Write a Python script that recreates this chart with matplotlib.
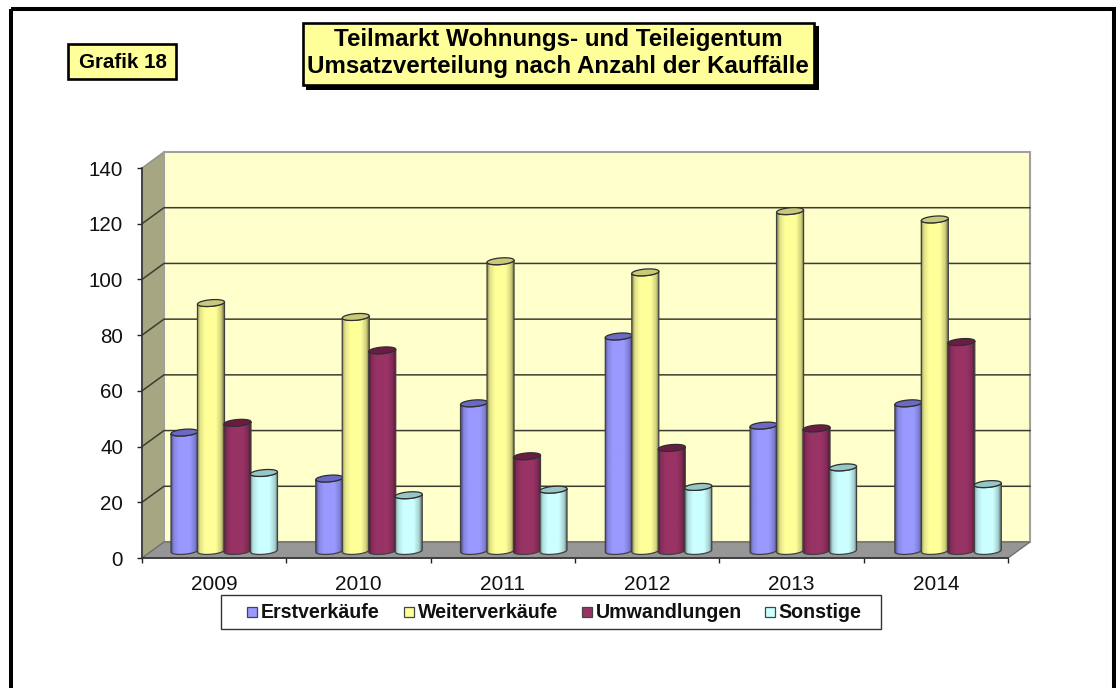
#!/usr/bin/env python3
"""Teilmarkt Wohnungs- und Teileigentum, Grafik 18, faux-3D cylinder chart."""

import matplotlib
matplotlib.use("Agg")
import matplotlib.pyplot as plt
import numpy as np
from matplotlib.colors import to_rgb
from matplotlib.patches import Polygon, Rectangle

W, H = 1116, 688

years = ["2009", "2010", "2011", "2012", "2013", "2014"]
series_names = ["Erstverkäufe", "Weiterverkäufe", "Umwandlungen", "Sonstige"]
erstverkaeufe = [42.5, 26, 53, 77, 45, 53]
weiterverkaeufe = [89, 84, 104, 100, 122, 119]
umwandlungen = [46, 72, 34, 37, 44, 75]
sonstige = [28, 20, 22, 23, 30, 24]
y_ticks = [0, 20, 40, 60, 80, 100, 120, 140]

series_values = [erstverkaeufe, weiterverkaeufe, umwandlungen, sonstige]
body_colors = ["#9999ff", "#ffff99", "#993366", "#ccffff"]
cap_colors = ["#6a6ac4", "#c9c97a", "#6b1c45", "#97c6c6"]

plt.rcParams["font.family"] = ["Liberation Sans", "DejaVu Sans"]

fig = plt.figure(figsize=(W / 100, H / 100), dpi=100, facecolor="white")


def px_axes(x0, y0, x1, y1):
    return fig.add_axes([x0 / W, 1 - y1 / H, (x1 - x0) / W, (y1 - y0) / H])


# chart area: front plane of the box, 142..1008 by 168..558 px
ax = px_axes(142, 168, 1008, 558)
ax.set_xlim(0, 6)
ax.set_ylim(0, 140)
ax.patch.set_visible(False)

depth_x = 22 / (866 / 6)
depth_y = 16 / (390 / 140)

# walls and floor
ax.add_patch(Polygon([(0, 0), (depth_x, depth_y), (depth_x, 140 + depth_y), (0, 140)],
                     facecolor="#a6a682", edgecolor="#909090", linewidth=1, clip_on=False, zorder=1))
ax.add_patch(Polygon([(depth_x, depth_y), (6 + depth_x, depth_y), (6 + depth_x, 140 + depth_y), (depth_x, 140 + depth_y)],
                     facecolor="#ffffcc", edgecolor="#a0a0a0", linewidth=1.5, clip_on=False, zorder=1))
ax.add_patch(Polygon([(0, 0), (6, 0), (6 + depth_x, depth_y), (depth_x, depth_y)],
                     facecolor="#969696", edgecolor="#707070", linewidth=1, clip_on=False, zorder=1))
for v in y_ticks[1:-1]:
    ax.plot([0, depth_x, 6 + depth_x], [v, v + depth_y, v + depth_y], color="#3c3c30", linewidth=1.1,
            clip_on=False, zorder=2, solid_joinstyle="miter")


def draw_cylinder(x_left, width, value, color, cap_color, z):
    base = depth_y * 0.44
    top = base + value
    a = width / 2
    b = 3.3 / (390 / 140)
    tilt = 1.1 / (390 / 140)
    cx = x_left + a
    t = np.linspace(0, 2 * np.pi, 80)
    ex = a * np.cos(t)
    ey = b * np.sin(t) + tilt * np.cos(t)

    front = np.linspace(np.pi, 2 * np.pi, 40)
    fx = a * np.cos(front)
    fy = b * np.sin(front) + tilt * np.cos(front)
    outline = np.r_[np.c_[cx + fx, base + fy], np.c_[cx + fx[::-1], top + fy[::-1]]]
    body = Polygon(outline, closed=True, facecolor="none", edgecolor="#404040", linewidth=0.9,
                   zorder=z + 0.2)

    rgb = np.array(to_rgb(color))
    u = np.linspace(0, 1, 48)
    shade = np.interp(u, [0, 0.1, 0.3, 0.7, 0.9, 1], [0.55, 0.88, 1.0, 1.0, 0.82, 0.5])
    img = np.clip(rgb[None, None, :] * shade[None, :, None], 0, 1)
    im = ax.imshow(img, extent=[x_left, x_left + width, base - 3 * b, top + 3 * b], aspect="auto",
                   zorder=z, interpolation="bilinear")
    ax.add_patch(body)
    im.set_clip_path(body)
    ax.fill(cx + ex, top + ey, facecolor=cap_color, edgecolor="#2e2e2e", linewidth=0.9, zorder=z + 0.3,
            clip_on=False)


bar_w = 27 / (866 / 6)
group_offset = (171 - 142) / (866 / 6)
for i in range(len(years)):
    for j, vals in enumerate(series_values):
        x_left = i * 1.003 + group_offset + j * 0.1835
        draw_cylinder(x_left, bar_w, vals[i], body_colors[j], cap_colors[j], 5 + j)

ax.set_xlim(0, 6)
ax.set_ylim(0, 140)

# axes
for side in ["top", "right"]:
    ax.spines[side].set_visible(False)
for side in ["left", "bottom"]:
    ax.spines[side].set_color("#333333")
    ax.spines[side].set_linewidth(1.2)
    ax.spines[side].set_zorder(3)
ax.set_yticks(y_ticks)
ax.set_xticks(range(7))
ax.set_xticklabels([])
ax.set_xticks(np.arange(6) + 0.5, labels=years, minor=True)
ax.tick_params(axis="x", which="major", length=3.6, width=1, color="#222222")
ax.tick_params(axis="x", which="minor", length=0, pad=12.5, labelsize=15, labelcolor="#111111")
ax.tick_params(axis="y", length=3.6, width=1, pad=10, labelsize=14.8, color="#222222", labelcolor="#111111")

# page furniture in pixel coordinates
deco = fig.add_axes([0, 0, 1, 1], zorder=20)
deco.set_xlim(0, W)
deco.set_ylim(H, 0)
deco.axis("off")

deco.add_patch(Rectangle((10.5, 8.5), 1103.5, 700, facecolor="none", edgecolor="black", linewidth=2.9,
                         clip_on=False))

deco.add_patch(Rectangle((68, 43.5), 108, 35, facecolor="#ffff99", edgecolor="black", linewidth=1.9))
deco.text(122.5, 62.5, "Grafik 18", ha="center", va="center", fontsize=14.8, fontweight="bold")

deco.add_patch(Rectangle((306, 26), 513, 64, facecolor="black", edgecolor="black", linewidth=0))
deco.add_patch(Rectangle((302.5, 22.5), 511, 62, facecolor="#ffff99", edgecolor="black", linewidth=1.9))
deco.text(558.5, 39.5, "Teilmarkt Wohnungs- und Teileigentum", ha="center", va="center", fontsize=17.4,
          fontweight="bold")
deco.text(557.5, 66.5, "Umsatzverteilung nach Anzahl der Kauffälle", ha="center", va="center", fontsize=17.4,
          fontweight="bold")

deco.add_patch(Rectangle((220.5, 594.5), 660, 34, facecolor="white", edgecolor="#333333", linewidth=1))
marker_x = [247, 403.5, 581.5, 764.5]
for name, color, mx in zip(series_names, body_colors, marker_x):
    deco.add_patch(Rectangle((mx, 607), 10, 10, facecolor=color, edgecolor="#444444", linewidth=0.9))
    deco.text(mx + 14, 613, name, ha="left", va="center", fontsize=14.1, fontweight="bold", color="#111111")

fig.savefig("out.png", dpi=100, facecolor="white")
